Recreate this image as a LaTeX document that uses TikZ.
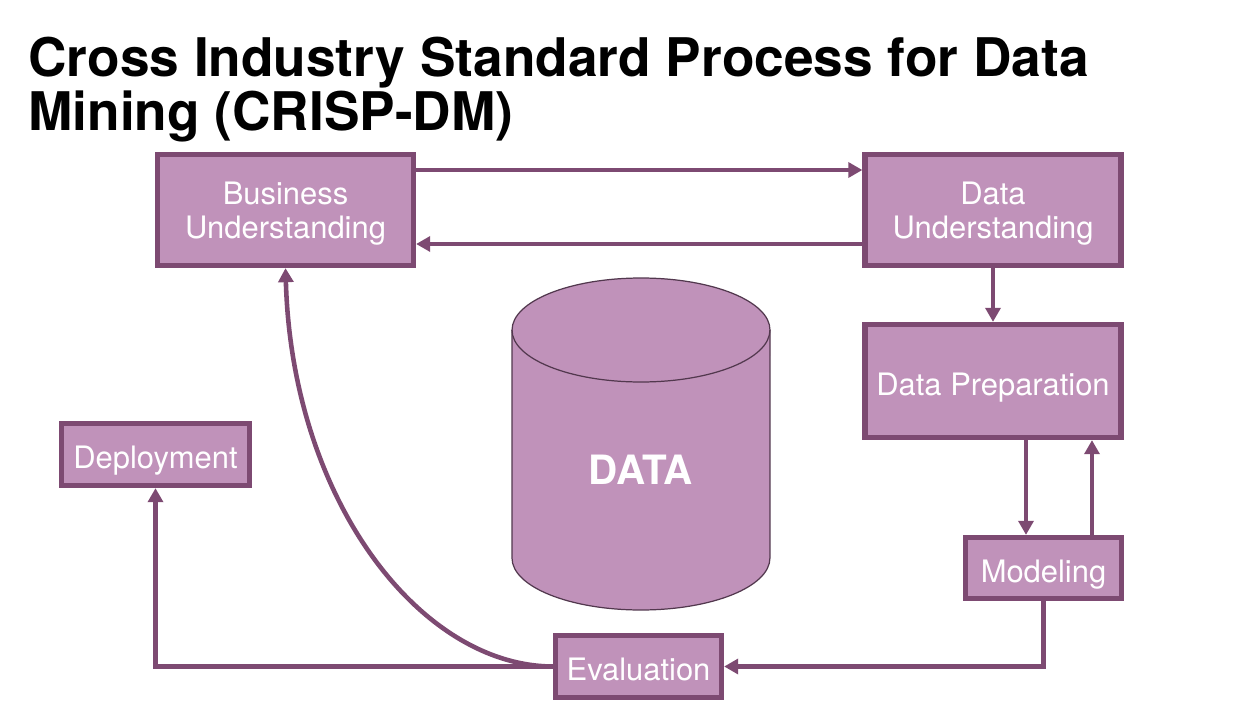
\documentclass[tikz,border=0pt]{standalone}
\usepackage{fontspec}
\setmainfont{TeX Gyre Heros}
\usetikzlibrary{arrows.meta}
\definecolor{phasefill}{RGB}{192,146,186}
\definecolor{phaseline}{RGB}{125,74,114}
\definecolor{drumline}{RGB}{82,56,78}

\begin{document}
\begin{tikzpicture}[x=0.02cm, y=-0.02cm]
            \tikzstyle{phase} = [draw=phaseline, fill=phasefill, line width=3pt, text=white, align=center, inner sep=0pt, font=\fontsize{17.6}{19.5}\selectfont]
            \tikzstyle{oneline} = [text height=16pt, text depth=0pt]
            \tikzstyle{twoline} = [text depth=0pt]
            \tikzstyle{flow} = [draw=phaseline, line width=2.6pt, -{Triangle[length=8pt, width=8.5pt]}]
            \useasboundingbox (0, 0) rectangle (1252, 720);

            \node[anchor=north west, inner sep=0pt, align=left, font=\fontsize{30.3}{30.6}\selectfont\bfseries] (title)
                at (28, 37) {Cross Industry Standard Process for Data\\Mining (CRISP-DM)};

            \draw[drumline, fill=phasefill, line width=0.7pt] (512, 330) -- (512, 558)
                arc[start angle=180, end angle=360, x radius=2.58cm, y radius=1.04cm] -- (770, 330)
                arc[start angle=0, end angle=180, x radius=2.58cm, y radius=1.04cm] -- cycle;
            \draw[drumline, line width=0.7pt] (512, 330)
                arc[start angle=180, end angle=360, x radius=2.58cm, y radius=1.04cm];
            \node[text=white, font=\fontsize{23}{23}\selectfont\bfseries] (data) at (641, 470) {DATA};

            \node[phase, twoline, minimum width=5.12cm, minimum height=2.22cm] (bu) at (285.5, 210) {Business\\Understanding};
            \node[phase, twoline, minimum width=5.12cm, minimum height=2.22cm] (du) at (993, 210) {Data\\Understanding};
            \node[phase, oneline, minimum width=5.12cm, minimum height=2.26cm] (dp) at (993, 381) {Data Preparation};
            \node[phase, oneline, minimum width=3.12cm, minimum height=1.22cm] (mod) at (1043.5, 568) {Modeling};
            \node[phase, oneline, minimum width=3.32cm, minimum height=1.24cm] (ev) at (638.5, 666.5) {Evaluation};
            \node[phase, oneline, minimum width=3.76cm, minimum height=1.24cm] (dep) at (155.5, 454.5) {Deployment};

            \draw[flow] ([yshift=0.8cm]bu.east) -- ([yshift=0.8cm]du.west);
            \draw[flow] ([yshift=-0.68cm]du.west) -- ([yshift=-0.68cm]bu.east);
            \draw[flow] (du.south) -- (dp.north);
            \draw[flow] ([xshift=-0.35cm]mod.north |- dp.south) -- ([xshift=-0.35cm]mod.north);
            \draw[flow] ([xshift=0.97cm]mod.north) -- ([xshift=0.97cm]mod.north |- dp.south);
            \draw[flow] (mod.south) |- (ev.east);
            \draw[flow] (ev.west) -| (dep.south);
            \draw[flow] (ev.west) .. controls (420, 666) and (292, 500) .. (bu.south);
        \end{tikzpicture}
\end{document}
